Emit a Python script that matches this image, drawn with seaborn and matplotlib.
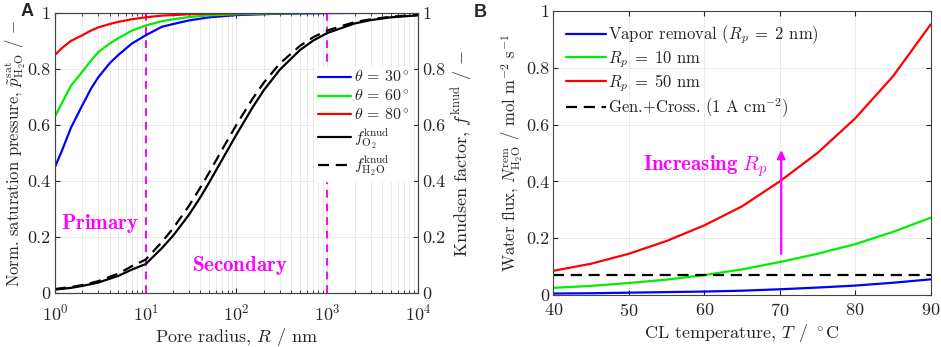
import numpy as np
import pandas as pd
import seaborn as sns
import matplotlib
matplotlib.use("Agg")
import matplotlib.pyplot as plt

# ---------------- data ----------------
R_nm = [1, 1.2, 1.5, 2, 2.5, 3, 4, 5, 7, 10, 15, 20, 30, 50, 100, 300, 1000, 3000, 10000]
p_theta30 = [0.45, 0.51, 0.59, 0.67, 0.73, 0.77, 0.82, 0.85, 0.89, 0.92, 0.95, 0.96, 0.973, 0.984, 0.992, 0.997, 0.999, 1.0, 1.0]
p_theta60 = [0.63, 0.68, 0.74, 0.79, 0.83, 0.86, 0.89, 0.91, 0.936, 0.955, 0.97, 0.977, 0.985, 0.991, 0.995, 0.998, 1.0, 1.0, 1.0]
p_theta80 = [0.85, 0.875, 0.90, 0.92, 0.937, 0.948, 0.96, 0.968, 0.977, 0.984, 0.99, 0.992, 0.995, 0.997, 0.998, 0.999, 1.0, 1.0, 1.0]

R_knud = [1, 1.5, 2, 3, 5, 7, 10, 15, 20, 30, 40, 50, 70, 100, 150, 200, 300, 500, 700, 1000, 2000, 3000, 5000, 10000]
f_O2 = [0.013, 0.019, 0.026, 0.038, 0.062, 0.084, 0.104, 0.160, 0.205, 0.280, 0.342, 0.395, 0.478, 0.566, 0.662, 0.724, 0.797, 0.867, 0.901, 0.928, 0.962, 0.974, 0.984, 0.991]
f_H2O = [0.015, 0.022, 0.029, 0.043, 0.070, 0.096, 0.120, 0.182, 0.231, 0.312, 0.377, 0.430, 0.514, 0.601, 0.693, 0.751, 0.819, 0.882, 0.913, 0.937, 0.967, 0.977, 0.986, 0.993]

T_C = [40, 45, 50, 55, 60, 65, 70, 75, 80, 85, 90]
N_2nm = [0.005, 0.006, 0.008, 0.010, 0.012, 0.015, 0.020, 0.026, 0.033, 0.043, 0.055]
N_10nm = [0.025, 0.032, 0.042, 0.054, 0.070, 0.090, 0.116, 0.145, 0.179, 0.222, 0.272]
N_50nm = [0.085, 0.110, 0.145, 0.190, 0.245, 0.312, 0.400, 0.500, 0.622, 0.770, 0.953]
N_gen = [0.071] * len(T_C)

# ---------------- style ----------------
sns.set_style("ticks")
plt.rcParams.update({
    "font.family": "serif",
    "font.serif": ["cmr10"],
    "mathtext.fontset": "cm",
    "axes.formatter.use_mathtext": True,
    "font.size": 12,
    "axes.unicode_minus": False,
    "axes.linewidth": 0.8,
    "axes.edgecolor": "#444444",
    "xtick.direction": "in",
    "ytick.direction": "in",
})

TICK_FS = 13

fig = plt.figure(figsize=(9.41, 3.47), dpi=100)
axA = fig.add_axes([0.0584, 0.155, 0.3858, 0.808])
axB = fig.add_axes([0.588, 0.150, 0.401, 0.818])

BLUE, GREEN, RED, MAG = "#0000ff", "#00ee00", "#ff0000", "#ff00ff"
gridkw = dict(color="#e6e6e6", linewidth=0.6)

# ---------------- panel A ----------------
axA.set_xscale("log")
axA.grid(True, which="major", axis="both", **gridkw)
axA.grid(True, which="minor", axis="x", **gridkw)
axA.set_axisbelow(True)
for vx in [10, 1000]:
    axA.axvline(vx, color=MAG, linestyle=(0, (4, 3)), linewidth=1.4, zorder=1)

sns.lineplot(x=R_nm, y=p_theta30, ax=axA, color=BLUE, linewidth=1.6, label=r"$\theta\,=\,30^\circ$")
sns.lineplot(x=R_nm, y=p_theta60, ax=axA, color=GREEN, linewidth=1.6, label=r"$\theta\,=\,60^\circ$")
sns.lineplot(x=R_nm, y=p_theta80, ax=axA, color=RED, linewidth=1.6, label=r"$\theta\,=\,80^\circ$")
axA.set_xlim(1, 1e4)
axA.set_ylim(0, 1)
axA.set_yticks([0, 0.2, 0.4, 0.6, 0.8, 1])
axA.set_yticklabels(["0", "0.2", "0.4", "0.6", "0.8", "1"])
axA.set_xlabel(r"Pore radius, $R$ / nm", fontsize=13, labelpad=2)
axA.set_ylabel(r"Norm. saturation pressure, $\tilde{p}^{\rm sat}_{\rm H_2O}$ / $-$", fontsize=12, labelpad=0)
axA.tick_params(which="both", top=True, right=False, labelsize=TICK_FS)
axA.tick_params(axis="x", pad=7)
axA.tick_params(axis="y", pad=3)

axA2 = axA.twinx()
sns.lineplot(x=R_knud, y=f_O2, ax=axA2, color="black", linewidth=1.6, label=r"$f^{\rm knud}_{\rm O_2}$")
sns.lineplot(x=R_knud, y=f_H2O, ax=axA2, color="black", linewidth=1.6, linestyle=(0, (5, 3)), label=r"$f^{\rm knud}_{\rm H_2O}$")
axA2.set_xscale("log")
axA2.set_xlim(1, 1e4)
axA2.set_ylim(0, 1)
axA2.set_yticks([0, 0.2, 0.4, 0.6, 0.8, 1])
axA2.set_yticklabels(["0", "0.2", "0.4", "0.6", "0.8", "1"])
axA2.set_ylabel(r"Knudsen factor, $f^{\rm knud}$ / $-$", fontsize=13, labelpad=3)
axA2.tick_params(labelsize=TICK_FS, direction="in", pad=3)
for sp in axA2.spines.values():
    sp.set_edgecolor("#444444")

h1, l1 = axA.get_legend_handles_labels()
h2, l2 = axA2.get_legend_handles_labels()
axA.get_legend().remove()
axA2.get_legend().remove()
legA = axA2.legend(h1 + h2, l1 + l2, loc="upper left", bbox_to_anchor=(0.695, 0.835),
                   frameon=True, edgecolor="white", facecolor="white", framealpha=1,
                   fontsize=11.5, handlelength=2.1, handletextpad=0.2, labelspacing=0.2,
                   borderpad=0.15, fancybox=False)

axA.text(3.1, 0.25, r"$\mathbf{Primary}$", color=MAG, fontsize=15, ha="center", va="center")
axA.text(110, 0.10, r"$\mathbf{Secondary}$", color=MAG, fontsize=15, ha="center", va="center")
fig.text(0.022, 0.968, "A", fontsize=13, fontweight="bold", family="Liberation Sans", va="center")

# ---------------- panel B ----------------
axB.grid(True, which="major", **gridkw)
axB.set_axisbelow(True)
sns.lineplot(x=T_C, y=N_2nm, ax=axB, color=BLUE, linewidth=1.6, label=r"Vapor removal ($R_p\;=\;2$ nm)")
sns.lineplot(x=T_C, y=N_10nm, ax=axB, color=GREEN, linewidth=1.6, label=r"$R_p\;=\;10$ nm")
sns.lineplot(x=T_C, y=N_50nm, ax=axB, color=RED, linewidth=1.6, label=r"$R_p\;=\;50$ nm")
sns.lineplot(x=T_C, y=N_gen, ax=axB, color="black", linewidth=1.6, linestyle=(0, (5, 3)),
             label=r"Gen.+Cross. (1 A cm$^{-2}$)")
axB.set_xlim(40, 90)
axB.set_ylim(0, 1)
axB.set_xticks([40, 50, 60, 70, 80, 90])
axB.set_yticks([0, 0.2, 0.4, 0.6, 0.8, 1])
axB.set_yticklabels(["0", "0.2", "0.4", "0.6", "0.8", "1"])
axB.set_xlabel(r"CL temperature, $T$ / $^\circ$C", fontsize=13, labelpad=2)
axB.set_ylabel(r"Water flux, $N^{\rm rem}_{\rm H_2O}$ / mol m$^{-2}$ s$^{-1}$", fontsize=12, labelpad=1)
axB.tick_params(which="both", top=True, right=True, labelsize=TICK_FS)
axB.tick_params(axis="x", pad=5)
axB.tick_params(axis="y", pad=3)
axB.legend(loc="upper left", frameon=False, fontsize=12, handlelength=2.4,
           handletextpad=0.15, labelspacing=0.15, borderaxespad=0.35)

axB.annotate("", xy=(70.2, 0.52), xytext=(70.2, 0.135),
             arrowprops=dict(arrowstyle="-|>", color=MAG, lw=1.6, mutation_scale=12))
axB.text(60.2, 0.455, r"$\mathbf{Increasing}\ R_p$", color=MAG, fontsize=15,
         ha="center", va="center")
fig.text(0.503, 0.965, "B", fontsize=13, fontweight="bold", family="Liberation Sans", va="center")

fig.savefig("out.png", dpi=100)
